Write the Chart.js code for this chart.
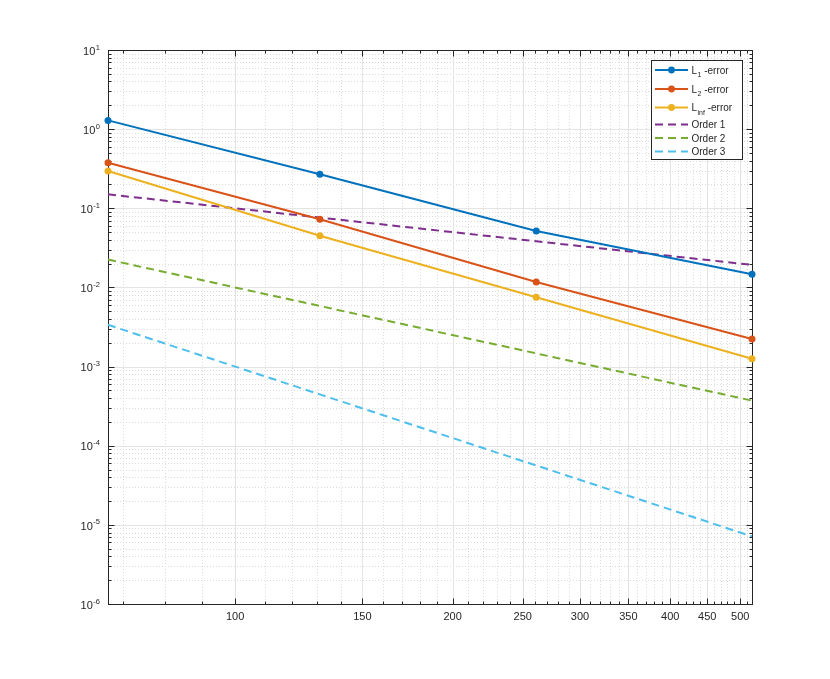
<!DOCTYPE html>
<html><head><meta charset="utf-8">
<script src="https://cdn.jsdelivr.net/npm/chart.js@4/dist/chart.umd.min.js"></script>
<style>html,body{margin:0;padding:0;background:#fff;}canvas{display:block;}</style>
</head><body>
<canvas id="c" width="830" height="679"></canvas>
<script>
// ---- data ----
const N = [66.7, 131, 261, 519];
const errL1 = [1.29, 0.269, 0.0516, 0.01465];
const errL2 = [0.377, 0.0726, 0.01172, 0.00223];
const errLinf = [0.296, 0.0450, 0.0075, 0.001257];
const order1 = [0.150, 0.0763, 0.0383, 0.01927];
const order2 = [0.02248, 0.005827, 0.001468, 0.0003713];
const order3 = [0.00337, 0.0004448, 0.00005624, 0.000007153];
const xTickValues = [100, 150, 200, 250, 300, 350, 400, 450, 500];
const xTickLabels = ['100', '150', '200', '250', '300', '350', '400', '450', '500'];
const yExponents = [-6, -5, -4, -3, -2, -1, 0, 1];
const legendMain = ['L', 'L', 'L', 'Order 1', 'Order 2', 'Order 3'];
const legendSub = ['1', '2', 'inf', '', '', ''];
const legendRest = [' -error', ' -error', ' -error', '', '', ''];

const X_MIN = 66.7, X_MAX = 519, Y_MIN = 1e-6, Y_MAX = 10;
const colors = ['#0072BD', '#D95319', '#EDB120', '#7E2F8E', '#77AC30', '#4DBEEE'];
const FONT = "'Liberation Sans', Arial, Helvetica, sans-serif";
const AX = '#262626';

// minor tick positions
const xMinor = [];
for (let v = 70; v <= 510; v += 10) if (!xTickValues.includes(v)) xMinor.push(v);
const yMinor = [];
for (let e = -6; e < 1; e++) for (let m = 2; m <= 9; m++) yMinor.push(m * Math.pow(10, e));

function pts(ys) { return N.map((n, i) => ({x: n, y: ys[i]})); }

const axesPlugin = {
  id: 'matlabAxes',
  beforeDatasetsDraw(chart) {
    const {ctx, chartArea: a, scales: {x, y}} = chart;
    ctx.save();
    ctx.lineWidth = 1;
    const vline = (px) => { ctx.beginPath(); ctx.moveTo(px, a.top); ctx.lineTo(px, a.bottom); ctx.stroke(); };
    const hline = (py) => { ctx.beginPath(); ctx.moveTo(a.left, py); ctx.lineTo(a.right, py); ctx.stroke(); };
    // minor dotted grid
    ctx.strokeStyle = '#dcdcdc';
    ctx.setLineDash([1, 2]);
    xMinor.forEach(v => vline(Math.round(x.getPixelForValue(v)) + 0.5));
    yMinor.forEach(v => hline(Math.round(y.getPixelForValue(v)) + 0.5));
    // major grid
    ctx.setLineDash([]);
    ctx.strokeStyle = '#e4e4e4';
    xTickValues.forEach(v => vline(Math.round(x.getPixelForValue(v)) + 0.5));
    yExponents.forEach(e => hline(Math.round(y.getPixelForValue(Math.pow(10, e))) + 0.5));
    // box
    ctx.strokeStyle = AX;
    ctx.lineWidth = 1;
    const L = Math.round(a.left) + 0.5, R = Math.round(a.right) + 0.5, T = Math.round(a.top) + 0.5, B = Math.round(a.bottom) + 0.5;
    ctx.strokeRect(L, T, R - L, B - T);
    // ticks
    const tick = (x1, y1, x2, y2) => { ctx.beginPath(); ctx.moveTo(x1, y1); ctx.lineTo(x2, y2); ctx.stroke(); };
    xTickValues.forEach(v => { const px = Math.round(x.getPixelForValue(v)) + 0.5; tick(px, B, px, B - 6); tick(px, T, px, T + 6); });
    xMinor.forEach(v => { const px = Math.round(x.getPixelForValue(v)) + 0.5; tick(px, B, px, B - 3); tick(px, T, px, T + 3); });
    yExponents.forEach(e => { const py = Math.round(y.getPixelForValue(Math.pow(10, e))) + 0.5; tick(L, py, L + 6, py); tick(R, py, R - 6, py); });
    yMinor.forEach(v => { const py = Math.round(y.getPixelForValue(v)) + 0.5; tick(L, py, L + 3, py); tick(R, py, R - 3, py); });
    // x labels
    ctx.fillStyle = AX;
    ctx.font = '11px ' + FONT;
    ctx.textAlign = 'center';
    ctx.textBaseline = 'alphabetic';
    xTickValues.forEach((v, i) => ctx.fillText(xTickLabels[i], x.getPixelForValue(v), a.bottom + 16));
    // y labels 10^k
    yExponents.forEach(e => {
      const py = y.getPixelForValue(Math.pow(10, e));
      const ex = String(e);
      ctx.font = '7.5px ' + FONT;
      const ew = ctx.measureText(ex).width;
      ctx.textAlign = 'left';
      ctx.fillText(ex, a.left - 8 - ew, py - 0.5);
      ctx.font = '11px ' + FONT;
      ctx.textAlign = 'right';
      ctx.fillText('10', a.left - 8 - ew - 0.5, py + 4.7);
    });
    ctx.restore();
  },
  afterDraw(chart) {
    const {ctx} = chart;
    ctx.save();
    const bx = 651, by = 60, bw = 91, bh = 99;
    ctx.fillStyle = '#fff';
    ctx.fillRect(bx, by, bw, bh);
    ctx.strokeStyle = AX;
    ctx.lineWidth = 1;
    ctx.strokeRect(bx + 0.5, by + 0.5, bw, bh);
    const rowsY = [70, 89, 107.5, 124.5, 138, 151.5];
    const ds = chart.data.datasets;
    ds.forEach((d, i) => {
      const ly = rowsY[i];
      ctx.strokeStyle = d.borderColor;
      ctx.lineWidth = 2;
      ctx.setLineDash(d.borderDash || []);
      ctx.beginPath(); ctx.moveTo(655, ly); ctx.lineTo(688, ly); ctx.stroke();
      ctx.setLineDash([]);
      if (d.pointRadius > 0) {
        ctx.fillStyle = d.borderColor;
        ctx.beginPath(); ctx.arc(671.5, ly, 3.4, 0, Math.PI * 2); ctx.fill();
      }
      ctx.fillStyle = AX;
      ctx.textAlign = 'left';
      ctx.textBaseline = 'alphabetic';
      ctx.font = '10px ' + FONT;
      let tx = 691.5;
      ctx.fillText(legendMain[i], tx, ly + 3.5);
      tx += ctx.measureText(legendMain[i]).width;
      if (legendSub[i]) {
        ctx.font = '7px ' + FONT;
        ctx.fillText(legendSub[i], tx + 0.5, ly + 7);
        tx += ctx.measureText(legendSub[i]).width + 0.5;
        ctx.font = '10px ' + FONT;
        ctx.fillText(legendRest[i], tx, ly + 3.5);
      }
    });
    ctx.restore();
  }
};

function ds(label, ys, color, dashed) {
  return {
    label, data: pts(ys), borderColor: color, backgroundColor: color,
    borderWidth: 2, borderDash: dashed ? [8, 5] : [],
    pointRadius: dashed ? 0 : 3.5, pointHoverRadius: dashed ? 0 : 3.5,
    pointBorderWidth: 0, pointBackgroundColor: color,
    tension: 0, clip: false, fill: false
  };
}

new Chart(document.getElementById('c'), {
  type: 'line',
  data: {
    datasets: [
      ds('L1-error', errL1, colors[0], false),
      ds('L2-error', errL2, colors[1], false),
      ds('Linf-error', errLinf, colors[2], false),
      ds('Order 1', order1, colors[3], true),
      ds('Order 2', order2, colors[4], true),
      ds('Order 3', order3, colors[5], true)
    ]
  },
  options: {
    responsive: false,
    animation: false,
    devicePixelRatio: 1,
    layout: {padding: {left: 108, right: 78, top: 50, bottom: 75}},
    plugins: {legend: {display: false}, tooltip: {enabled: false}},
    events: [],
    scales: {
      x: {type: 'logarithmic', min: X_MIN, max: X_MAX, display: false},
      y: {type: 'logarithmic', min: Y_MIN, max: Y_MAX, display: false}
    }
  },
  plugins: [axesPlugin]
});
</script>
</body></html>
